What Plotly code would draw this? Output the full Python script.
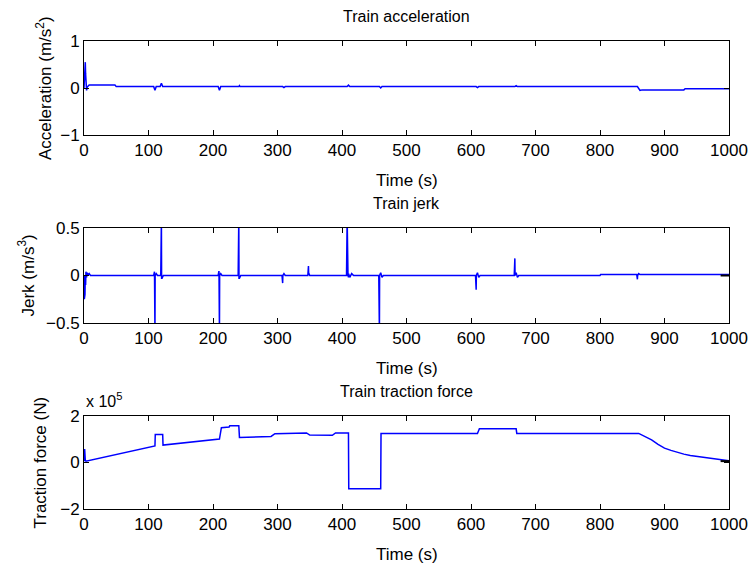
import plotly.graph_objects as go

# ---------------- data ----------------
acc_t = [0, 1, 2, 2.5, 3, 4, 5, 8, 48, 50, 108, 110, 112, 118, 120, 122, 208, 210, 212,
         240, 241, 242, 308, 310, 312, 408, 410, 412, 458, 460, 462, 608, 610, 612,
         668, 670, 672, 858, 862, 866, 930, 932, 1000]
acc_v = [0.0, 0.3, 0.55, 0.3, 0.05, -0.05, 0.02, 0.065, 0.065, 0.03, 0.03, -0.05, 0.03, 0.03, 0.1, 0.03,
         0.03, -0.05, 0.03, 0.03, 0.05, 0.03, 0.03, 0.01, 0.03, 0.03, 0.06, 0.03, 0.03, 0.0, 0.03,
         0.03, 0.01, 0.03, 0.03, 0.05, 0.03, 0.03, -0.05, -0.04, -0.04, -0.015, -0.015]

jerk_t = [0, 0.5, 1, 1.5, 2, 2.5, 3, 4, 5, 6, 8, 10,
          108, 109, 109.3, 110, 110.3, 112, 114,
          119, 120, 120.3, 121, 123,
          208, 209, 209.3, 210, 210.3, 212, 214,
          239, 240, 240.3, 241, 243,
          307, 308, 308.3, 310, 312,
          347, 348, 348.3, 350, 353,
          407, 408, 408.3, 409, 409.3, 410, 410.3, 412, 415, 418,
          457, 458, 458.3, 460, 462, 464,
          607, 608, 608.3, 610, 612, 614,
          667, 668, 668.3, 670, 672, 674,
          800, 801, 857, 858, 858.3, 860, 862,
          1000]
jerk_v = [0.0, -0.25, -0.05, -0.2, 0.0, -0.1, 0.04, -0.02, 0.03, 0.0, 0.02, 0.0,
          0.0, 0.04, 0.04, -0.6, 0.0, 0.02, 0.0,
          0.0, 0.6, -0.03, -0.03, 0.0,
          0.0, 0.04, 0.04, -0.6, 0.0, 0.02, 0.0,
          0.0, 0.6, -0.03, -0.03, 0.0,
          0.0, -0.08, 0.0, 0.02, 0.0,
          0.0, 0.1, 0.03, 0.0, 0.0,
          0.0, 0.6, 0.2, 0.2, 0.0, -0.02, 0.02, -0.02, 0.02, 0.0,
          0.0, -0.6, 0.0, 0.03, -0.02, 0.0,
          0.0, -0.15, 0.0, 0.03, -0.02, 0.0,
          0.0, 0.18, 0.0, 0.03, -0.02, 0.0,
          0.0, 0.01, 0.01, -0.04, 0.0, 0.02, 0.01,
          0.01]
jerk_end_t = [987, 1000]
jerk_end_v = [0.0, 0.0]

trac_t = [0, 1, 2, 3, 110, 110.5, 122, 122.5, 210, 213, 225, 226, 240, 241, 290, 296,
          345, 350, 385, 390, 410, 410.5, 460, 460.5, 610, 613, 670, 671,
          860, 870, 880, 890, 900, 910, 920, 930, 940, 950, 960, 970, 980, 990, 1000]
trac_v = [0.05, 0.58, 0.1, 0.06, 0.71, 1.2, 1.2, 0.75, 1.01, 1.5, 1.53, 1.58, 1.58, 1.08, 1.12, 1.24,
          1.27, 1.18, 1.17, 1.27, 1.27, -1.13, -1.13, 1.25, 1.25, 1.45, 1.45, 1.25,
          1.25, 1.12, 0.97, 0.78, 0.62, 0.52, 0.43, 0.36, 0.3, 0.26, 0.22, 0.18, 0.14, 0.1, 0.08]
trac_end_t = [987, 1000]
trac_end_v = [0.06, 0.06]

x_ticks = [0, 100, 200, 300, 400, 500, 600, 700, 800, 900, 1000]
acc_ticks = [-1, 0, 1]
jerk_ticks = [-0.5, 0, 0.5]
trac_ticks = [-2, 0, 2]

W, H = 750, 564
FONT = "Liberation Sans, Arial, sans-serif"
BLUE = "#0000ff"

# pixel boxes: (left, right, top, bottom)
boxes = [(84, 729, 41, 135), (84, 729, 228, 323), (84, 729, 416, 509)]

fig = go.Figure()
fig.add_trace(go.Scatter(x=acc_t, y=acc_v, mode="lines", line=dict(color=BLUE, width=1.5),
                         xaxis="x", yaxis="y", showlegend=False))
fig.add_trace(go.Scatter(x=jerk_t, y=jerk_v, mode="lines", line=dict(color=BLUE, width=1.5),
                         xaxis="x2", yaxis="y2", showlegend=False))
fig.add_trace(go.Scatter(x=jerk_end_t, y=jerk_end_v, mode="lines", line=dict(color="black", width=2),
                         xaxis="x2", yaxis="y2", showlegend=False))
fig.add_trace(go.Scatter(x=trac_t, y=trac_v, mode="lines", line=dict(color=BLUE, width=1.5),
                         xaxis="x3", yaxis="y3", showlegend=False))
fig.add_trace(go.Scatter(x=trac_end_t, y=trac_end_v, mode="lines", line=dict(color="black", width=2),
                         xaxis="x3", yaxis="y3", showlegend=False))

axfont = dict(family=FONT, size=17, color="black")
common = dict(showline=True, linecolor="black", linewidth=1, mirror="ticks", ticks="inside",
              ticklen=5, tickcolor="black", showgrid=False, zeroline=False, tickfont=axfont,
              automargin=False)

layout = dict(width=W, height=H, margin=dict(l=0, r=0, t=0, b=0, pad=0), template="none",
              plot_bgcolor="white", paper_bgcolor="white", showlegend=False)
yticks = [acc_ticks, jerk_ticks, trac_ticks]
yranges = [[-1, 1], [-0.5, 0.5], [-2, 2]]
for i, (l, r, t, b) in enumerate(boxes):
    sfx = "" if i == 0 else str(i + 1)
    layout["xaxis" + sfx] = dict(domain=[l / W, r / W], range=[0, 1000], tickvals=x_ticks,
                                 anchor="y" + sfx, **common)
    layout["yaxis" + sfx] = dict(domain=[1 - b / H, 1 - t / H], range=yranges[i],
                                 tickvals=yticks[i], anchor="x" + sfx, **common)
fig.update_layout(**layout)

ann = []
titles = ["Train acceleration", "Train jerk", "Train traction force"]
ylabels = ["Acceleration (m/s<sup>2</sup>)", "Jerk (m/s<sup>3</sup>)", "Traction force (N)"]
ylab_x = [44, 27, 40]
for i, (l, r, t, b) in enumerate(boxes):
    cx = (l + r) / 2 / W
    ann.append(dict(text=titles[i], x=cx, y=1 - (t - 25) / H, xref="paper", yref="paper",
                    xanchor="center", yanchor="middle",
                    showarrow=False, font=dict(family=FONT, size=16, color="black")))
    ann.append(dict(text="Time (s)", x=cx, y=1 - (b + 45) / H, xref="paper", yref="paper",
                    xanchor="center", yanchor="middle",
                    showarrow=False, font=dict(family=FONT, size=17, color="black")))
    ann.append(dict(text=ylabels[i], x=ylab_x[i] / W, y=1 - (t + b) / 2 / H, xref="paper",
                    yref="paper", showarrow=False, textangle=-90,
                    xanchor="center", yanchor="middle",
                    font=dict(family=FONT, size=17, color="black")))
ann.append(dict(text="x 10<sup>5</sup>", x=84 / W, y=1 - 400 / H, xref="paper", yref="paper",
                xanchor="left", yanchor="middle", showarrow=False,
                font=dict(family=FONT, size=16, color="black")))
fig.update_layout(annotations=ann)

fig.write_html("out.html")
